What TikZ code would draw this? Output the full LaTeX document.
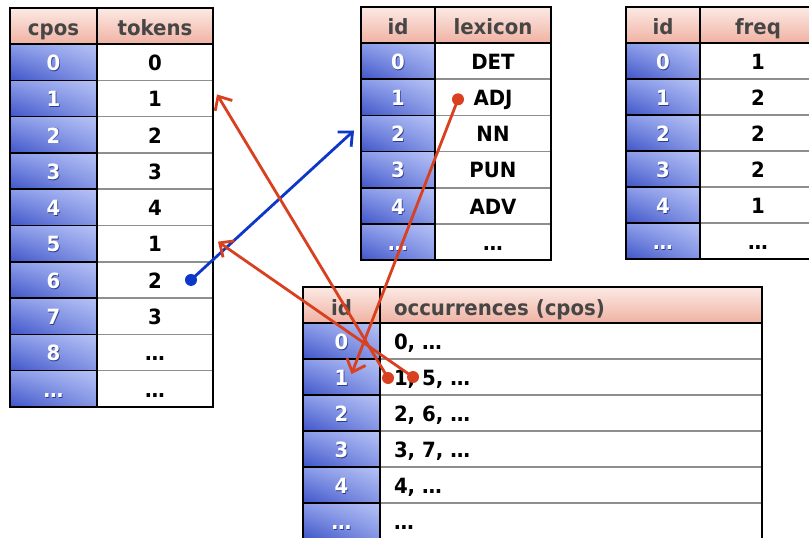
\documentclass[tikz,border=0pt]{standalone}
\usepackage{fontspec}
\setmainfont{DejaVu Sans}[FakeStretch=0.94]
\usetikzlibrary{arrows.meta,calc,shadings}
\definecolor{hdtop}{HTML}{FCEAE5}
\definecolor{hdbot}{HTML}{F0B2A3}
\definecolor{hdtext}{HTML}{464646}
\definecolor{idUL}{HTML}{8C9DEA}
\definecolor{idUR}{HTML}{B6C2F5}
\definecolor{idLL}{HTML}{3F55C8}
\definecolor{idLR}{HTML}{8495E5}
\definecolor{idshadow}{HTML}{2A3A90}
\definecolor{rowline}{HTML}{8E8E8E}
\definecolor{redarrow}{HTML}{D8401F}
\definecolor{bluearrow}{HTML}{0D37C8}
\newcommand\idtext[1]{\rlap{\hspace{0.7bp}\raisebox{-0.9bp}{\color{idshadow}#1}}{\color{white}#1}}
\tikzset{
  cellfont/.style={font=\fontsize{21bp}{23bp}\selectfont\bfseries, text height=16.6bp, text depth=0bp},
  hdcell/.style={cellfont, text height=20bp, text=hdtext, top color=hdtop, bottom color=hdbot, draw=black, line width=1.5bp, inner sep=0pt, outer sep=0pt, anchor=north west},
  idcell/.style={cellfont, text=white, upper left=idUL, upper right=idUR, lower left=idLL, lower right=idLR, draw=black, line width=1.5bp, inner sep=0pt, outer sep=0pt, anchor=north west},
  valcell/.style={cellfont, text=black, fill=white, draw=rowline, line width=1.5bp, inner sep=0pt, outer sep=0pt, anchor=north west},
  frame/.style={draw=black, line width=2bp},
  redarr/.style={draw=redarrow, line width=2.8bp, -{Straight Barb[length=11bp,width=20bp]}},
  bluearr/.style={draw=bluearrow, line width=2.8bp, -{Straight Barb[length=11bp,width=20bp]}},
}
\begin{document}
\begin{tikzpicture}[x=1bp,y=-1bp]
\useasboundingbox (0,0) rectangle (809,538);
\begin{scope}
\clip (0,0) rectangle (809,538);
\fill[white] (0,0) rectangle (809,538);

% ---------- left table: cpos / tokens
\node[hdcell, minimum width=87bp, minimum height=36bp] (L-h1) at (10,8) {cpos};
\node[hdcell, minimum width=116bp, minimum height=36bp] (L-h2) at (97,8) {tokens};
\foreach \a/\b [count=\i from 0] in {0/0,1/1,2/2,3/3,4/4,5/1,6/2,7/3,8/…,…/…}{
  \node[idcell, minimum width=87bp, minimum height=36.3bp] (L-i\i) at (10,{44+36.3*\i}) {\idtext{\a}};
  \node[valcell, minimum width=116bp, minimum height=36.3bp] (L-v\i) at (97,{44+36.3*\i}) {\b};
}
\draw[frame] (L-h1.north west) rectangle (L-v9.south east);
\draw[frame] (L-h1.north east) -- (L-i9.south east);
\draw[frame] (L-h1.south west) -- (L-h2.south east);

% ---------- lexicon table
\node[hdcell, minimum width=74bp, minimum height=36bp] (X-h1) at (361,7) {id};
\node[hdcell, minimum width=116bp, minimum height=36bp] (X-h2) at (435,7) {lexicon};
\foreach \a/\b [count=\i from 0] in {0/DET,1/ADJ,2/NN,3/PUN,4/ADV,…/…}{
  \node[idcell, minimum width=74bp, minimum height=36.2bp] (X-i\i) at (361,{43+36.2*\i}) {\idtext{\a}};
  \node[valcell, minimum width=116bp, minimum height=36.2bp] (X-v\i) at (435,{43+36.2*\i}) {\b};
}
\draw[frame] (X-h1.north west) rectangle (X-v5.south east);
\draw[frame] (X-h1.north east) -- (X-i5.south east);
\draw[frame] (X-h1.south west) -- (X-h2.south east);

% ---------- freq table
\node[hdcell, minimum width=74bp, minimum height=36bp] (F-h1) at (626,7) {id};
\node[hdcell, minimum width=116bp, minimum height=36bp] (F-h2) at (700,7) {freq};
\foreach \a/\b [count=\i from 0] in {0/1,1/2,2/2,3/2,4/1,…/…}{
  \node[idcell, minimum width=74bp, minimum height=36bp] (F-i\i) at (626,{43+36*\i}) {\idtext{\a}};
  \node[valcell, minimum width=116bp, minimum height=36bp] (F-v\i) at (700,{43+36*\i}) {\b};
}
\draw[frame] (F-h1.north west) rectangle (F-v5.south east);
\draw[frame] (F-h1.north east) -- (F-i5.south east);
\draw[frame] (F-h1.south west) -- (F-h2.south east);

% ---------- occurrences table
\node[hdcell, minimum width=77bp, minimum height=36bp] (O-h1) at (303,287) {id};
\node[hdcell, text width=354bp, inner xsep=14bp, align=left, minimum height=36bp] (O-h2) at (380,287) {occurrences (cpos)};
\foreach \a/\b [count=\i from 0] in {0/{0, …},1/{1, 5, …},2/{2, 6, …},3/{3, 7, …},4/{4, …},…/…}{
  \node[idcell, minimum width=77bp, minimum height=36bp] (O-i\i) at (303,{323+36*\i}) {\idtext{\a}};
  \node[valcell, text width=354bp, inner xsep=14bp, align=left, minimum height=36bp] (O-v\i) at (380,{323+36*\i}) {\b};
}
\draw[frame] (O-h1.north west) rectangle (O-v5.south east);
\draw[frame] (O-h1.north east) -- (O-i5.south east);
\draw[frame] (O-h1.south west) -- (O-h2.south east);

% ---------- connectors
\coordinate (b-s) at ($(L-v6.center)+(36,0)$);
\coordinate (b-e) at ($(X-i2.west)+(-7,-3)$);
\draw[bluearr] (b-s) -- (b-e);
\fill[bluearrow] (b-s) circle[radius=6bp];

\coordinate (r1-s) at ($(X-v1.center)+(-35,2)$);
\coordinate (r1-e) at ($(O-i1.center)+(10,-3)$);
\draw[redarr] (r1-s) -- (r1-e);
\fill[redarrow] (r1-s) circle[radius=6bp];

\coordinate (r2-s) at ($(O-v1.west)+(8,1)$);
\coordinate (r2-e) at ($(L-v1.east)+(4,-4)$);
\draw[redarr] (r2-s) -- (r2-e);
\fill[redarrow] (r2-s) circle[radius=6bp];

\coordinate (r3-s) at ($(O-v1.west)+(33,0)$);
\coordinate (r3-e) at ($(L-v5.east)+(5,-2)$);
\draw[redarr] (r3-s) -- (r3-e);
\fill[redarrow] (r3-s) circle[radius=6bp];
\end{scope}
\end{tikzpicture}
\end{document}
